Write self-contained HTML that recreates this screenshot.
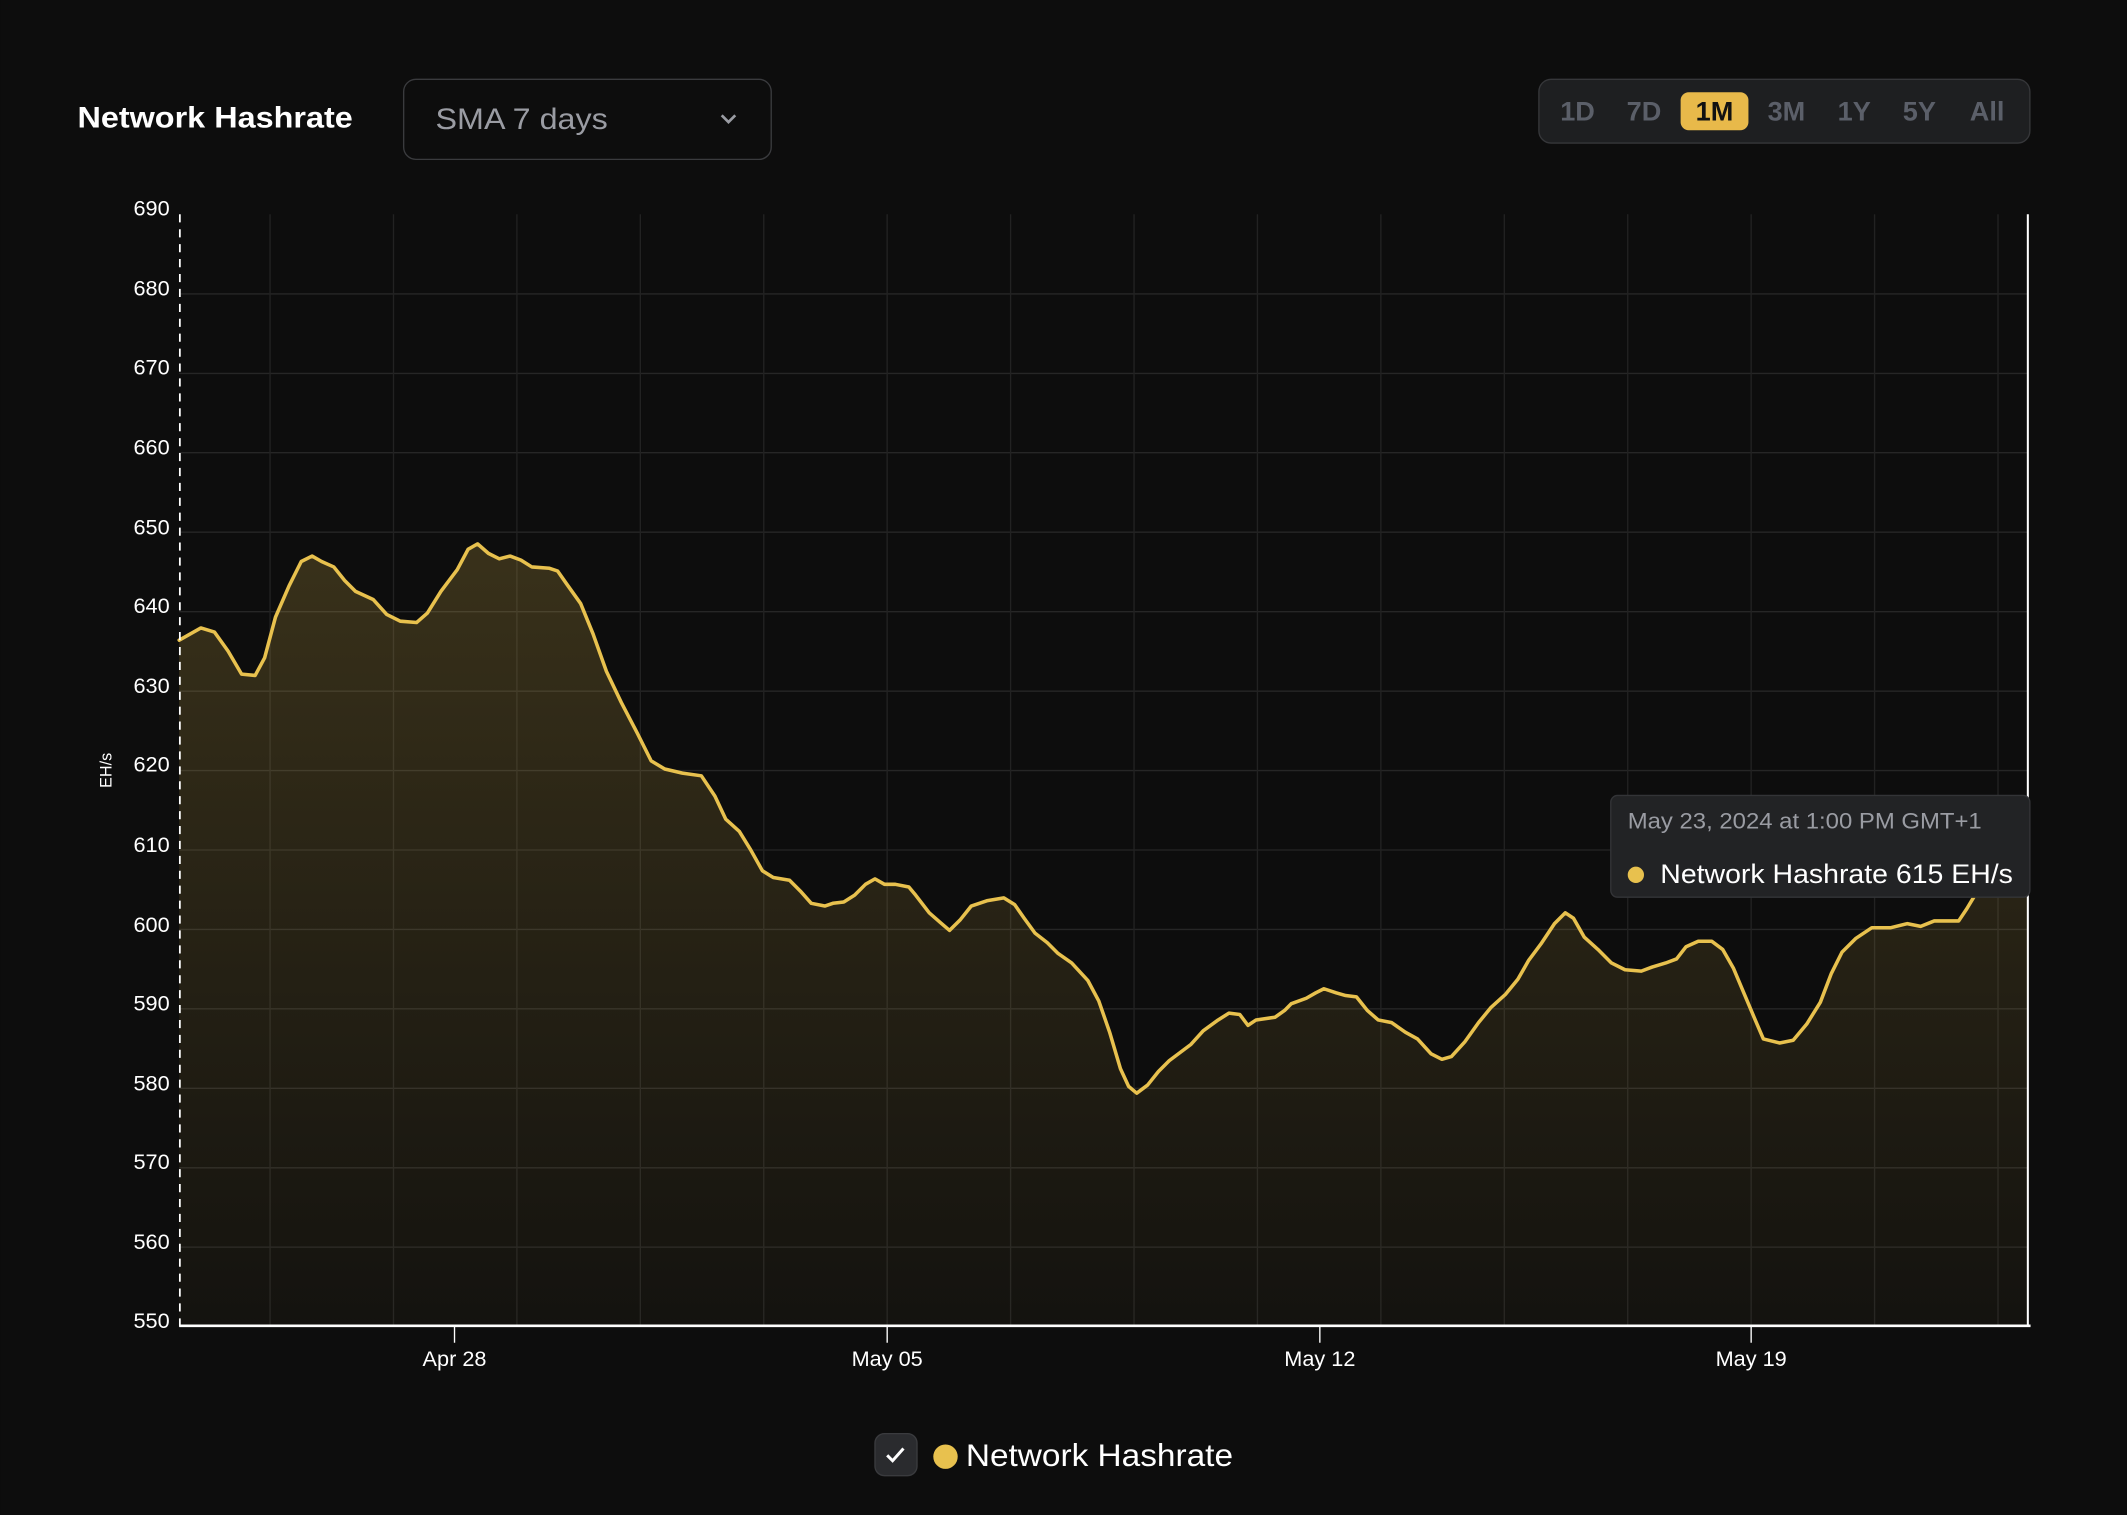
<!DOCTYPE html>
<html><head><meta charset="utf-8"><style>
html,body{margin:0;padding:0;background:#0d0d0d;}
svg{display:block;font-family:"Liberation Sans",sans-serif;}
</style></head><body>
<svg width="2127" height="1515" viewBox="0 0 1568 1117" xmlns="http://www.w3.org/2000/svg">
<defs>
<linearGradient id="g" x1="0" y1="0" x2="0" y2="1">
<stop offset="0" stop-color="#e8c14e" stop-opacity="0.2"/>
<stop offset="1" stop-color="#e8c14e" stop-opacity="0.03"/>
</linearGradient>
</defs>
<rect width="1568" height="1117" fill="#0d0d0d"/>
<text x="57" y="94" fill="#fff" font-size="22" font-weight="bold" textLength="203" lengthAdjust="spacingAndGlyphs">Network Hashrate</text>
<rect x="297.5" y="58.5" width="271" height="59" rx="9" fill="#0d0d0d" stroke="#3a3b3e"/>
<text x="321" y="95" fill="#9a9ca3" font-size="22" textLength="127" lengthAdjust="spacingAndGlyphs">SMA 7 days</text>
<path d="M532 85 l5 5 l5 -5" fill="none" stroke="#9a9ca3" stroke-width="2"/>
<rect x="1134.5" y="58.5" width="362" height="47" rx="9" fill="#1e1f21" stroke="#36373a"/>
<rect x="1239" y="68" width="50" height="28" rx="6" fill="#e8b94a"/>
<g font-size="20" font-weight="bold" fill="#5b5f69" text-anchor="middle">
<text x="1163" y="89">1D</text><text x="1212" y="89">7D</text>
<text x="1264" y="89" fill="#111">1M</text><text x="1317" y="89">3M</text>
<text x="1367" y="89">1Y</text><text x="1415" y="89">5Y</text><text x="1465" y="89">All</text>
</g>
<g stroke="#262626" stroke-width="1">
<line x1="132" x2="1495" y1="216.7" y2="216.7"/><line x1="132" x2="1495" y1="275.3" y2="275.3"/>
<line x1="132" x2="1495" y1="333.8" y2="333.8"/><line x1="132" x2="1495" y1="392.4" y2="392.4"/>
<line x1="132" x2="1495" y1="451" y2="451"/><line x1="132" x2="1495" y1="509.6" y2="509.6"/>
<line x1="132" x2="1495" y1="568.1" y2="568.1"/><line x1="132" x2="1495" y1="626.7" y2="626.7"/>
<line x1="132" x2="1495" y1="685.3" y2="685.3"/><line x1="132" x2="1495" y1="743.8" y2="743.8"/>
<line x1="132" x2="1495" y1="802.4" y2="802.4"/><line x1="132" x2="1495" y1="861" y2="861"/>
<line x1="132" x2="1495" y1="919.5" y2="919.5"/>
</g>
<g stroke="#222" stroke-width="1">
<line x1="199" x2="199" y1="158" y2="978"/><line x1="290" x2="290" y1="158" y2="978"/>
<line x1="381" x2="381" y1="158" y2="978"/><line x1="472" x2="472" y1="158" y2="978"/>
<line x1="563" x2="563" y1="158" y2="978"/><line x1="654" x2="654" y1="158" y2="978"/>
<line x1="745" x2="745" y1="158" y2="978"/><line x1="836" x2="836" y1="158" y2="978"/>
<line x1="927" x2="927" y1="158" y2="978"/><line x1="1018" x2="1018" y1="158" y2="978"/>
<line x1="1109" x2="1109" y1="158" y2="978"/><line x1="1200" x2="1200" y1="158" y2="978"/>
<line x1="1291" x2="1291" y1="158" y2="978"/><line x1="1382" x2="1382" y1="158" y2="978"/>
<line x1="1473" x2="1473" y1="158" y2="978"/>
</g>
<polygon fill="url(#g)" points="132,978 132,472 148,463 158,466 168,480 178,497 188,498 195,485 203,455 213,432 222,414 230,410 237,414 246,418 254,428 262,436 275,442 285,453 295,458 307,459 315,452 325,436 337,420 345,405 352,401 360,408 368,412 376,410 384,413 392,418 405,419 411,421 418,431 428,445 437,467 447,495 458,518 470,541 480,561 490,567 503,570 517,572 527,587 535,604 545,613 553,626 562,642 570,647 582,649 590,657 598,666 608,668 614,666 622,665 630,660 638,652 645,648 652,652 660,652 670,654 675,660 685,673 693,680 700,686 708,678 716,668 728,664 740,662 748,667 755,677 763,688 772,695 780,703 790,710 802,723 810,738 818,761 826,788 832,801 838,806 846,800 854,790 862,782 870,776 878,770 887,760 898,752 906,747 914,748 920,756 926,752 940,750 947,745 952,740 963,736 970,732 976,729 985,732 992,734 1000,735 1008,745 1016,752 1026,754 1036,761 1045,766 1055,777 1063,781 1070,779 1080,768 1090,754 1099,743 1110,733 1119,722 1127,708 1136,696 1146,681 1154,673 1160,677 1168,691 1178,700 1188,710 1198,715 1210,716 1218,713 1228,710 1236,707 1243,698 1252,694 1262,694 1270,700 1278,714 1286,733 1294,752 1300,766 1312,769 1322,767 1332,755 1342,739 1350,718 1358,702 1368,692 1380,684 1394,684 1406,681 1416,683 1426,679 1436,679 1444,679 1450,670 1456,660 1466,648 1480,625 1495,597 1495,978"/>
<polyline fill="none" stroke="#e8c14e" stroke-width="2.6" stroke-linejoin="round" stroke-linecap="round" points="132,472 148,463 158,466 168,480 178,497 188,498 195,485 203,455 213,432 222,414 230,410 237,414 246,418 254,428 262,436 275,442 285,453 295,458 307,459 315,452 325,436 337,420 345,405 352,401 360,408 368,412 376,410 384,413 392,418 405,419 411,421 418,431 428,445 437,467 447,495 458,518 470,541 480,561 490,567 503,570 517,572 527,587 535,604 545,613 553,626 562,642 570,647 582,649 590,657 598,666 608,668 614,666 622,665 630,660 638,652 645,648 652,652 660,652 670,654 675,660 685,673 693,680 700,686 708,678 716,668 728,664 740,662 748,667 755,677 763,688 772,695 780,703 790,710 802,723 810,738 818,761 826,788 832,801 838,806 846,800 854,790 862,782 870,776 878,770 887,760 898,752 906,747 914,748 920,756 926,752 940,750 947,745 952,740 963,736 970,732 976,729 985,732 992,734 1000,735 1008,745 1016,752 1026,754 1036,761 1045,766 1055,777 1063,781 1070,779 1080,768 1090,754 1099,743 1110,733 1119,722 1127,708 1136,696 1146,681 1154,673 1160,677 1168,691 1178,700 1188,710 1198,715 1210,716 1218,713 1228,710 1236,707 1243,698 1252,694 1262,694 1270,700 1278,714 1286,733 1294,752 1300,766 1312,769 1322,767 1332,755 1342,739 1350,718 1358,702 1368,692 1380,684 1394,684 1406,681 1416,683 1426,679 1436,679 1444,679 1450,670 1456,660 1466,648 1480,625 1495,597"/>
<line x1="132.5" x2="132.5" y1="158" y2="978" stroke="#fff" stroke-width="1.3" stroke-dasharray="6,5"/>
<line x1="1495" x2="1495" y1="158" y2="978" stroke="#fff" stroke-width="1.5"/>
<line x1="132" x2="1497" y1="977.5" y2="977.5" stroke="#fff" stroke-width="2"/>
<g stroke="#fff" stroke-width="1">
<line x1="335" x2="335" y1="978" y2="990"/><line x1="654" x2="654" y1="978" y2="990"/>
<line x1="973" x2="973" y1="978" y2="990"/><line x1="1291" x2="1291" y1="978" y2="990"/>
</g>
<g fill="#fff" font-size="16" text-anchor="end">
<text x="125" y="159">690</text><text x="125" y="218">680</text><text x="125" y="276">670</text>
<text x="125" y="335">660</text><text x="125" y="394">650</text><text x="125" y="452">640</text>
<text x="125" y="511">630</text><text x="125" y="569">620</text><text x="125" y="628">610</text>
<text x="125" y="687">600</text><text x="125" y="745">590</text><text x="125" y="804">580</text>
<text x="125" y="862">570</text><text x="125" y="921">560</text><text x="125" y="979">550</text>
</g>
<text transform="translate(82,568) rotate(-90)" fill="#fff" font-size="12" text-anchor="middle">EH/s</text>
<g fill="#fff" font-size="16" text-anchor="middle">
<text x="335" y="1007">Apr 28</text><text x="654" y="1007">May 05</text>
<text x="973" y="1007">May 12</text><text x="1291" y="1007">May 19</text>
</g>
<rect x="1187.5" y="586.5" width="309" height="75" rx="5" fill="#222325" stroke="#333437"/>
<text x="1200" y="611" fill="#9a9ca3" font-size="16.5" textLength="261" lengthAdjust="spacingAndGlyphs">May 23, 2024 at 1:00 PM GMT+1</text>
<circle cx="1206" cy="645" r="6" fill="#e8c14e"/>
<text x="1224" y="651" fill="#fff" font-size="20" textLength="260" lengthAdjust="spacingAndGlyphs">Network Hashrate 615 EH/s</text>
<rect x="645" y="1057" width="31" height="31" rx="7" fill="#2a2b2e" stroke="#3a3b3e"/>
<path d="M654 1073 l4 4 l8 -9" fill="none" stroke="#fff" stroke-width="2.2"/>
<circle cx="697" cy="1074" r="9" fill="#e8c14e"/>
<text x="712" y="1081" fill="#fff" font-size="23" textLength="197" lengthAdjust="spacingAndGlyphs">Network Hashrate</text>
</svg>
</body></html>
